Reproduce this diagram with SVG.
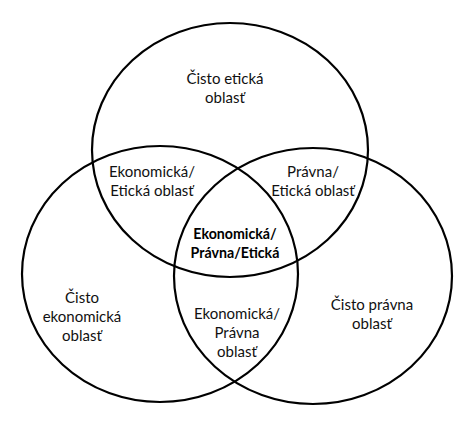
<svg xmlns="http://www.w3.org/2000/svg" width="474" height="424" viewBox="0 0 474 424">
<style>
.c{fill:none;stroke:#000;stroke-width:2.2}
.t{font-family:Lato,"Open Sans","Liberation Sans",sans-serif;font-size:15px;fill:#111;text-anchor:middle}
.b{font-weight:bold;font-size:14.2px;fill:#000}
</style>
<rect width="474" height="424" fill="#fff"/>
<g id="circles">
<g id="eticka"><ellipse class="c" cx="230" cy="150" rx="138" ry="127"/></g>
<g id="ekonomicka"><ellipse class="c" cx="160" cy="274" rx="138" ry="128"/></g>
<g id="pravna"><ellipse class="c" cx="313" cy="276" rx="139" ry="128"/></g>
</g>
<g id="labels">
<g id="l-eticka"><text class="t" x="225" y="84">Čisto etická</text><text class="t" x="225" y="103">oblasť</text></g>
<g id="l-eko-eticka"><text class="t" x="152" y="177">Ekonomická/</text><text class="t" x="152" y="196">Etická oblasť</text></g>
<g id="l-pravna-eticka"><text class="t" x="313" y="177">Právna/</text><text class="t" x="313" y="196">Etická oblasť</text></g>
<g id="l-all"><text class="t b" x="235" y="239">Ekonomická/</text><text class="t b" x="235" y="258">Právna/Etická</text></g>
<g id="l-eko"><text class="t" x="82" y="303">Čisto</text><text class="t" x="82" y="322">ekonomická</text><text class="t" x="82" y="341">oblasť</text></g>
<g id="l-eko-pravna"><text class="t" x="237" y="319">Ekonomická/</text><text class="t" x="237" y="338">Právna</text><text class="t" x="237" y="356.5">oblasť</text></g>
<g id="l-pravna"><text class="t" x="372" y="310">Čisto právna</text><text class="t" x="372" y="329">oblasť</text></g>
</g>
</svg>
